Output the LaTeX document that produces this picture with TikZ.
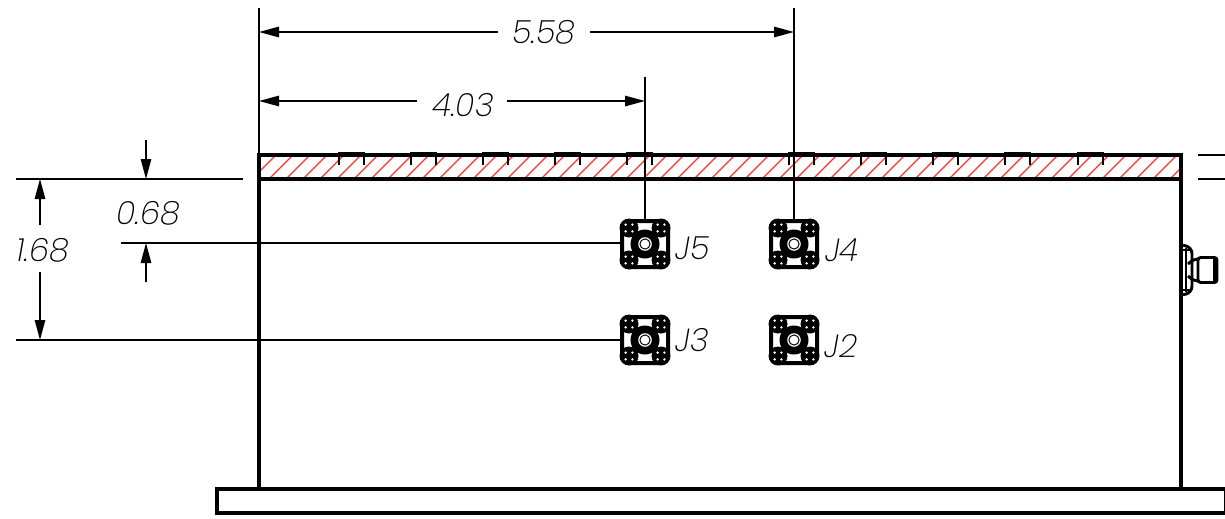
\documentclass[tikz,border=0pt]{standalone}
\usepackage{fontspec}
\setmainfont{Poppins}[UprightFont=* ExtraLight,ItalicFont=* ExtraLight Italic]
\usetikzlibrary{arrows.meta}
\definecolor{hatchred}{RGB}{250,50,50}
\tikzset{
  x=0.75pt,y=-0.75pt,
  outline/.style={line width=2.4pt,black},
  partline/.style={line width=2.2pt,black},
  dimline/.style={line width=1.2pt,black},
  dimarrow/.style={dimline,-{Triangle[length=15pt,width=7.8pt]}},
  dimlabel/.style={font=\fontsize{24}{24}\itshape\selectfont,inner sep=0pt,anchor=center},
  hatchline/.style={hatchred,line width=1pt},
  pics/jack/.style={code={
    \draw[line width=3pt,rounded corners=6pt] (-23,-23) rectangle (23,23);
    \foreach \sx in {-1,1}\foreach \sy in {-1,1}{
      \fill[black] (16*\sx,16*\sy) circle[radius=9.5];
      \foreach \dx in {-1,1}\foreach \dy in {-1,1}{
        \fill[white] (16*\sx+3.4*\dx,16*\sy+3.4*\dy) circle[radius=1.3];
      }
    }
    \fill[black] (0,0) circle[radius=14.5];
    \fill[white] (0,0) circle[radius=6.8];
    \fill[black] (0,0) circle[radius=5.6];
    \fill[white] (0,0) circle[radius=4.4];
  }}
}
\begin{document}
\begin{tikzpicture}
\useasboundingbox (0,0) rectangle (1225,518);
% hatching of the cut band
\begin{scope}
  \clip (259,155) rectangle (1181,179);
  \foreach \i in {0,...,56}{
    \draw[hatchline] ({252+17*\i},179) -- ({276+17*\i},155);
  }
\end{scope}
% housing
\draw[outline] (259,155) rectangle (1181,489);
\draw[outline] (259,179) -- (1181,179);
\draw[outline] (217,489) rectangle (1226,513);
% tabs
\foreach \t in {339,411,483,555,627,789,861,933,1005,1078}{
  \draw[partline] (\t,165) -- (\t,153.5) -- (\t+25,153.5) -- (\t+25,165);
}
% jacks
\coordinate (j5) at (645,244);
\coordinate (j4) at (794,244);
\coordinate (j3) at (645,340);
\coordinate (j2) at (794,340);
\foreach \c in {j5,j4,j3,j2}{ \pic at (\c) {jack}; }
\node[dimlabel] (lj5) at (693,248) {J5};
\node[dimlabel] (lj4) at (842,250) {J4};
\node[dimlabel] (lj3) at (692,340) {J3};
\node[dimlabel] (lj2) at (841,346) {J2};
% side connector
\draw[partline,rounded corners=5pt] (1181,245) -- (1192,247) -- (1192,293) -- (1181,295);
\draw[partline] (1186,248) -- (1186,292);
\draw[partline] (1181,250) -- (1192,250) (1181,290) -- (1192,290);
\draw[partline,rounded corners=3pt] (1188,264) -- (1194,259) -- (1198,259);
\draw[partline,rounded corners=3pt] (1188,276) -- (1194,281) -- (1198,281);
\draw[partline,rounded corners=2pt] (1198,257.5) rectangle (1217,282.5);
\draw[partline] (1214.5,258) -- (1214.5,282);
% extension lines
\coordinate (e1a) at (259,8);   \coordinate (e1b) at (259,155);
\coordinate (e2a) at (794,8);   \coordinate (e2b) at (794,222);
\coordinate (e3a) at (645,77);  \coordinate (e3b) at (645,222);
\coordinate (e4a) at (16,179);  \coordinate (e4b) at (243,179);
\coordinate (e5a) at (121,243); \coordinate (e5b) at (622,243);
\coordinate (e6a) at (16,340);  \coordinate (e6b) at (622,340);
\coordinate (e7a) at (1198,155);\coordinate (e7b) at (1225,155);
\coordinate (e8a) at (1198,179);\coordinate (e8b) at (1225,179);
\draw[dimline] (e1a) -- (e1b);
\draw[dimline] (e2a) -- (e2b);
\draw[dimline] (e3a) -- (e3b);
\draw[dimline] (e4a) -- (e4b);
\draw[dimline] (e5a) -- (e5b);
\draw[dimline] (e6a) -- (e6b);
\draw[dimline] (e7a) -- (e7b);
\draw[dimline] (e8a) -- (e8b);
% dimension labels
\node[dimlabel] (d558) at (544,32) {5.58};
\node[dimlabel] (d403) at (463,105) {4.03};
\node[dimlabel] (d068) at (148,213) {0.68};
\node[dimlabel] (d168) at (43,250) {1.68};
% dimension arrows
\coordinate (s558l) at (498,32);  \coordinate (t558l) at (259,32);
\coordinate (s558r) at (590,32);  \coordinate (t558r) at (794,32);
\coordinate (s403l) at (417,101); \coordinate (t403l) at (259,101);
\coordinate (s403r) at (507,101); \coordinate (t403r) at (645,101);
\coordinate (s068a) at (146,140); \coordinate (t068a) at (146,179);
\coordinate (s068b) at (146,282); \coordinate (t068b) at (146,243);
\coordinate (s168a) at (40,225);  \coordinate (t168a) at (40,179);
\coordinate (s168b) at (40,272);  \coordinate (t168b) at (40,340);
\draw[dimarrow] (s558l) -- (t558l);
\draw[dimarrow] (s558r) -- (t558r);
\draw[dimarrow] (s403l) -- (t403l);
\draw[dimarrow] (s403r) -- (t403r);
\draw[dimarrow] (s068a) -- (t068a);
\draw[dimarrow] (s068b) -- (t068b);
\draw[dimarrow] (s168a) -- (t168a);
\draw[dimarrow] (s168b) -- (t168b);
\end{tikzpicture}
\end{document}
